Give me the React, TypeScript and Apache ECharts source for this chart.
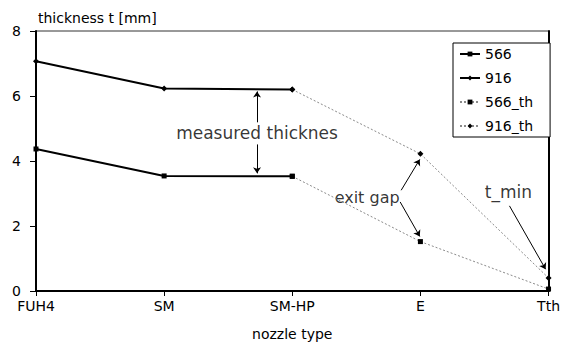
import React, { useEffect, useRef } from "react";
import * as echarts from "echarts";

const categories = ["FUH4", "SM", "SM-HP", "E", "Tth"];
const s566 = [4.37, 3.54, 3.53, null, null];
const s916 = [7.07, 6.23, 6.2, null, null];
const s566th = [null, null, 3.53, 1.52, 0.06];
const s916th = [null, null, 6.2, 4.22, 0.4];

const yMin = 0;
const yMax = 8;
const yInterval = 2;

// annotation arrows: [from, to] in data units (x = category index)
const arrows = [
  [[1.725, 5.19], [1.725, 6.14]],
  [[1.725, 4.51], [1.725, 3.62]],
  [[2.85, 3.1], [2.995, 4.05]],
  [[2.842, 2.74], [2.995, 1.68]],
  [[3.695, 2.62], [3.977, 0.67]],
];
const noteTexts = ["measured thicknes", "exit gap", "t_min"];
const noteX = [1.725, 2.584, 3.687];
const noteY = [4.85, 2.88, 3.04];
const noteSize = [17, 16, 17];

const FONT = "DejaVu Sans";

const toPairs = (arr: (number | null)[]) =>
  arr.map((v, i) => (v == null ? null : [i, v])).filter((p) => p !== null);

export default function App() {
  const ref = useRef<HTMLDivElement>(null);
  useEffect(() => {
    if (!ref.current) return;
    const chart = echarts.init(ref.current, undefined, { renderer: "svg" });
    const solid = (name: string, data: any[], symbol: string, size: number) => ({
      name,
      type: "line",
      data,
      symbol,
      symbolSize: size,
      showSymbol: true,
      lineStyle: { color: "#000", width: 2 },
      itemStyle: { color: "#000", borderWidth: 0 },
      z: 5,
    });
    const dotted = (name: string, data: any[], symbol: string, size: number) => ({
      name,
      type: "line",
      data,
      symbol,
      symbolSize: size,
      lineStyle: { color: "#8a8a8a", width: 1, type: [2, 2] },
      itemStyle: { color: "#000", borderWidth: 0 },
      z: 4,
    });
    chart.setOption({
      animation: false,
      textStyle: { fontFamily: FONT },
      graphic: [
        {
          type: "text",
          x: 38,
          y: 11,
          style: {
            text: "thickness t [mm]",
            fontFamily: FONT,
            fontSize: 14,
            fill: "#000",
            align: "left",
            verticalAlign: "top",
          },
        },
      ],
      grid: {
        left: 36,
        right: 3,
        top: 31,
        bottom: 58,
        show: true,
        borderColor: "#333",
        borderWidth: 1,
      },
      legend: {
        orient: "vertical",
        left: 453,
        top: 43,
        data: ["566", "916", "566_th", "916_th"],
        backgroundColor: "#fff",
        borderColor: "#000",
        borderWidth: 1,
        borderRadius: 0,
        padding: [3, 17, 3, 6],
        itemGap: 8,
        itemWidth: 20,
        itemHeight: 6,
        textStyle: { fontFamily: FONT, fontSize: 14, color: "#000", lineHeight: 16 },
      },
      xAxis: {
        type: "value",
        min: 0,
        max: categories.length - 1,
        interval: 1,
        name: "nozzle type",
        nameLocation: "middle",
        nameGap: 36,
        nameTextStyle: { fontFamily: FONT, fontSize: 14, color: "#000" },
        axisLine: { show: true, lineStyle: { color: "#000", width: 2 } },
        axisTick: { show: true, inside: false, length: 5, lineStyle: { color: "#000", width: 1 } },
        axisLabel: {
          margin: 8,
          fontFamily: FONT,
          fontSize: 14,
          color: "#000",
          formatter: (v: number) => categories[v] ?? "",
        },
        splitLine: { show: false },
      },
      yAxis: [
        {
          type: "value",
          min: yMin,
          max: yMax,
          interval: yInterval,
          axisLine: { show: true, lineStyle: { color: "#000", width: 2 } },
          axisTick: { show: true, inside: false, length: 6, lineStyle: { color: "#000", width: 1 } },
          axisLabel: { margin: 15, fontFamily: FONT, fontSize: 14, color: "#000" },
          splitLine: { show: false },
        },
        {
          type: "value",
          position: "right",
          min: yMin,
          max: yMax,
          interval: yInterval,
          axisLine: { show: true, lineStyle: { color: "#000", width: 2 } },
          axisTick: { show: false },
          axisLabel: { show: false },
          splitLine: { show: false },
        },
      ],
      series: [
        solid("566", toPairs(s566), "rect", 5),
        solid("916", toPairs(s916), "diamond", 6),
        dotted("566_th", toPairs(s566th), "rect", 5),
        dotted("916_th", toPairs(s916th), "diamond", 6),
        {
          type: "line",
          data: [],
          silent: true,
          markLine: {
            silent: true,
            symbol: ["none", "arrow"],
            symbolSize: 6,
            label: { show: false },
            lineStyle: { color: "#000", width: 1, type: "solid" },
            data: arrows.map((a) => [{ coord: a[0] }, { coord: a[1] }]),
          },
        },
        {
          type: "scatter",
          silent: true,
          symbolSize: 0,
          data: noteTexts.map((t, i) => ({
            value: [noteX[i], noteY[i]],
            label: {
              show: true,
              position: "inside",
              formatter: t,
              fontFamily: FONT,
              fontSize: noteSize[i],
              color: "#000",
              textBorderWidth: 0,
            },
          })),
        },
      ],
    });
    return () => chart.dispose();
  }, []);
  return (
    <div
      ref={ref}
      style={{ position: "fixed", left: 0, top: 0, width: 563, height: 349, background: "#fff" }}
    />
  );
}
